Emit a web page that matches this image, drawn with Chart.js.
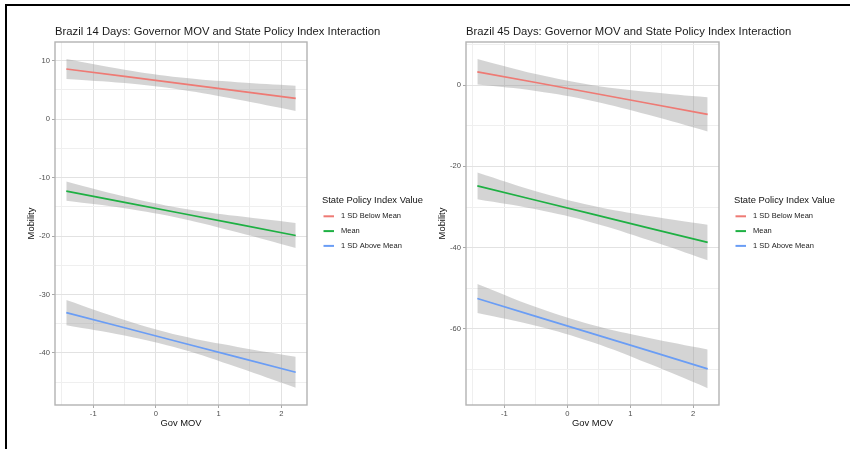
<!DOCTYPE html>
<html>
<head>
<meta charset="utf-8">
<script src="https://cdn.jsdelivr.net/npm/chart.js@4.4.1/dist/chart.umd.min.js"></script>
<style>
  html, body { margin: 0; padding: 0; background: #fff; overflow: hidden; }
  #wrap { position: relative; width: 850px; height: 449px; }
  canvas { position: absolute; top: 0; }
  #frame { position: absolute; left: 5px; top: 4px; width: 860px; height: 460px;
           border-left: 2px solid #000; border-top: 2px solid #000; pointer-events: none; }
</style>
</head>
<body>
<div id="wrap">
  <canvas id="days14" width="425" height="449" style="left:0"></canvas>
  <canvas id="days45" width="425" height="449" style="left:425px"></canvas>
  <div id="frame"></div>
</div>
<script>
const govMov = [-1.43, -0.5, 0.4, 1.3, 2.23];

// 14 days
const below14 = [8.58, 7.31, 6.07, 4.84, 3.57];
const below14Hi = [10.28, 8.45, 7.11, 6.31, 5.73];
const below14Lo = [6.88, 6.17, 5.03, 3.37, 1.41];
const mean14 = [-12.3, -14.23, -16.10, -17.97, -19.9];
const mean14Hi = [-10.65, -13.23, -15.22, -16.58, -17.76];
const mean14Lo = [-13.95, -15.23, -16.98, -19.36, -22.04];
const above14 = [-33.1, -35.69, -38.20, -40.71, -43.3];
const above14Hi = [-30.95, -34.36, -37.07, -38.96, -40.63];
const above14Lo = [-35.25, -37.02, -39.33, -42.46, -45.97];

// 45 days
const below45 = [3.27, 0.63, -1.95, -4.53, -7.2];
const below45Hi = [6.42, 2.70, -0.01, -1.69, -3.01];
const below45Lo = [0.12, -1.44, -3.89, -7.37, -11.39];
const mean45 = [-24.8, -28.33, -31.75, -35.17, -38.7];
const mean45Hi = [-21.5, -26.10, -29.66, -32.18, -34.33];
const mean45Lo = [-28.1, -30.56, -33.84, -38.16, -43.07];
const above45 = [-52.5, -56.90, -61.15, -65.40, -69.8];
const above45Hi = [-48.95, -54.62, -59.03, -62.22, -65.04];
const above45Lo = [-56.05, -59.18, -63.27, -68.58, -74.56];

const groups = ['1 SD Below Mean', 'Mean', '1 SD Above Mean'];
const groupColors = ['#EE7A74', '#1EB043', '#6A9DF5'];

const xMajor = [-1, 0, 1, 2];
const xMinor = [-1.5, -0.5, 0.5, 1.5];
const y14Major = [10, 0, -10, -20, -30, -40];
const y14Minor = [5, -5, -15, -25, -35, -45];
const y45Major = [0, -20, -40, -60];
const y45Minor = [10, -10, -30, -50, -70];

const FONT = "'Liberation Sans', Arial, Helvetica, sans-serif";
Chart.defaults.font.family = FONT;

const pts = (ys) => govMov.map((x, i) => ({x: x, y: ys[i]}));

// title, legend and panel border, ggplot style
const ggDecor = {
    id: 'ggDecor',
    afterDraw(chart, args, opts) {
        const ctx = chart.ctx;
        const a = chart.chartArea;
        ctx.save();
        ctx.strokeStyle = '#b3b3b3';
        ctx.lineWidth = 1.4;
        ctx.strokeRect(a.left, a.top, a.right - a.left, a.bottom - a.top);

        ctx.fillStyle = '#1a1a1a';
        ctx.textBaseline = 'middle';
        ctx.textAlign = 'left';
        ctx.font = '11.25px ' + FONT;
        ctx.fillText(opts.title, a.left, 31.7);

        const lx = a.right + 15;
        ctx.fillStyle = '#111';
        ctx.font = '9.4px ' + FONT;
        ctx.fillText('State Policy Index Value', lx, 200);
        ctx.font = '7.5px ' + FONT;
        groups.forEach((g, i) => {
            const y = 216.3 + i * 14.8;
            ctx.strokeStyle = groupColors[i];
            ctx.lineWidth = 2;
            ctx.beginPath();
            ctx.moveTo(lx + 1.5, y);
            ctx.lineTo(lx + 12, y);
            ctx.stroke();
            ctx.fillStyle = '#1a1a1a';
            ctx.fillText(g, lx + 19, y);
        });
        ctx.restore();
    }
};

function makePanel(id, title, series, yMin, yMax, yMajor, yMinor, yWidth, rightPad, yTitlePad) {
    const datasets = [];
    series.forEach((s, i) => {
        datasets.push({data: pts(s.hi), fill: '+1', backgroundColor: 'rgba(153,153,153,0.42)',
            borderWidth: 0, pointRadius: 0, tension: 0.4, order: 2});
        datasets.push({data: pts(s.lo), fill: false, borderWidth: 0, pointRadius: 0, tension: 0.4, order: 2});
    });
    series.forEach((s, i) => {
        datasets.push({label: groups[i], data: pts(s.fit), borderColor: groupColors[i], borderWidth: 1.7,
            pointRadius: 0, fill: false, order: 0});
    });

    const grid = (major) => ({
        color: c => (c.tick && major.includes(c.tick.value)) ? '#e2e2e2' : '#efefef',
        tickColor: c => (c.tick && major.includes(c.tick.value)) ? '#a8a8a8' : 'rgba(0,0,0,0)',
        tickLength: 3,
        lineWidth: 1
    });
    const setTicks = (major, minor) => (s) => {
        s.ticks = major.concat(minor).sort((p, q) => p - q).map(v => ({value: v}));
    };

    return new Chart(document.getElementById(id), {
        type: 'line',
        data: {datasets: datasets},
        plugins: [ggDecor],
        options: {
            responsive: false,
            animation: false,
            devicePixelRatio: 1,
            layout: {padding: {top: 42, left: 0, right: rightPad, bottom: 0}},
            plugins: {
                legend: {display: false},
                tooltip: {enabled: false},
                ggDecor: {title: title}
            },
            scales: {
                x: {
                    type: 'linear', min: -1.61, max: 2.41,
                    afterBuildTicks: setTicks(xMajor, xMinor),
                    afterFit: s => { s.height = 44; },
                    grid: grid(xMajor),
                    border: {display: false},
                    ticks: {autoSkip: false, maxRotation: 0, padding: 1, color: '#4d4d4d', font: {size: 7.6},
                        callback: v => xMajor.includes(v) ? String(v) : ''},
                    title: {display: true, text: 'Gov MOV', color: '#111', font: {size: 9.4},
                        padding: {top: 0, bottom: 20}}
                },
                y: {
                    type: 'linear', min: yMin, max: yMax,
                    afterBuildTicks: setTicks(yMajor, yMinor),
                    afterFit: s => { s.width = yWidth; },
                    grid: grid(yMajor),
                    border: {display: false},
                    ticks: {autoSkip: false, padding: 2, color: '#4d4d4d', font: {size: 7.6},
                        callback: v => yMajor.includes(v) ? String(v) : ''},
                    title: {display: true, text: 'Mobility', color: '#111', font: {size: 9.4},
                        padding: {top: yTitlePad, bottom: 0}}
                }
            }
        }
    });
}

makePanel('days14', 'Brazil 14 Days: Governor MOV and State Policy Index Interaction', [
    {fit: below14, hi: below14Hi, lo: below14Lo},
    {fit: mean14, hi: mean14Hi, lo: mean14Lo},
    {fit: above14, hi: above14Hi, lo: above14Lo}
], -48.9, 13.2, y14Major, y14Minor, 55, 118, 26);

makePanel('days45', 'Brazil 45 Days: Governor MOV and State Policy Index Interaction', [
    {fit: below45, hi: below45Hi, lo: below45Lo},
    {fit: mean45, hi: mean45Hi, lo: mean45Lo},
    {fit: above45, hi: above45Hi, lo: above45Lo}
], -78.7, 10.6, y45Major, y45Minor, 41, 131, 11.3);
</script>
</body>
</html>
